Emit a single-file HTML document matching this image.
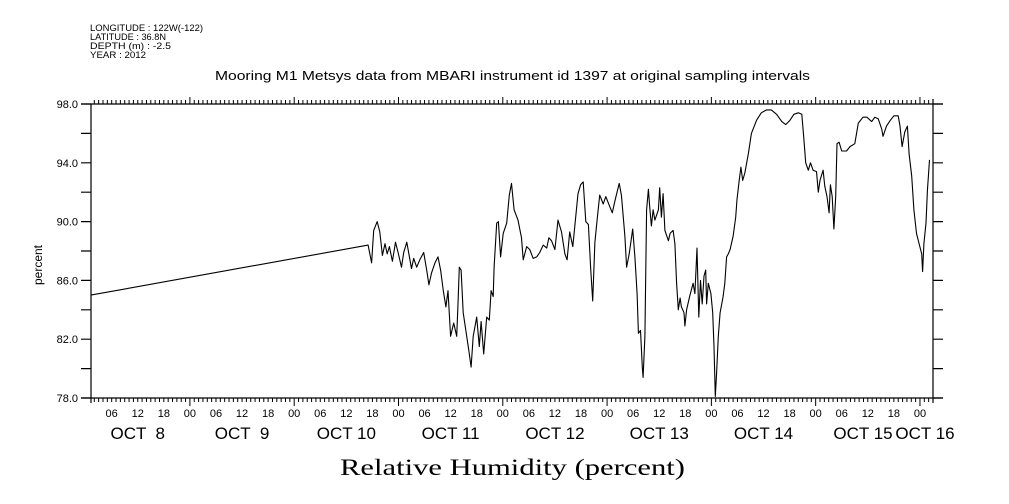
<!DOCTYPE html>
<html><head><meta charset="utf-8">
<style>
html,body{margin:0;padding:0;background:#fff;}
svg{display:block;}
text{font-family:"Liberation Sans",sans-serif;fill:#000;}
</style></head>
<body>
<svg id="chart" width="1009" height="504" viewBox="0 0 1009 504" xmlns="http://www.w3.org/2000/svg">
<g font-size="9.5">
<text x="90" y="31" textLength="113" lengthAdjust="spacingAndGlyphs">LONGITUDE : 122W(-122)</text>
<text x="90" y="40" textLength="76" lengthAdjust="spacingAndGlyphs">LATITUDE : 36.8N</text>
<text x="90" y="49" textLength="81" lengthAdjust="spacingAndGlyphs">DEPTH (m) : -2.5</text>
<text x="90" y="58" textLength="56" lengthAdjust="spacingAndGlyphs">YEAR : 2012</text>
</g>
<text x="215" y="80" textLength="595" lengthAdjust="spacingAndGlyphs" font-size="13">Mooring M1 Metsys data from MBARI instrument id 1397 at original sampling intervals</text>
<text x="340" y="475" textLength="345" lengthAdjust="spacingAndGlyphs" font-size="23" style="font-family:'Liberation Serif',serif">Relative Humidity (percent)</text>
<text transform="translate(42,265) rotate(-90)" text-anchor="middle" font-size="12">percent</text>
<g id="axes"></g>
<g id="series"></g>
</svg>
<script>
// hours since Oct 8 00:00
const hours=[1.2,65.0,65.8,66.3,67.1,67.7,68.3,68.9,69.4,69.9,70.6,71.3,71.9,72.7,73.2,73.9,74.5,75.0,75.5,76.2,76.9,77.8,78.5,79.0,79.6,80.4,81.1,81.7,82.3,82.9,83.4,84.0,84.7,85.4,85.7,86.0,86.4,86.9,87.7,88.2,88.7,89.2,90.0,90.6,91.0,91.6,92.3,92.9,93.3,93.8,94.0,94.6,95.0,95.5,96.1,96.9,97.5,98.0,98.6,99.5,100.3,100.7,101.5,102.2,103.0,103.8,104.5,105.3,106.1,106.6,107.2,108.0,108.7,109.5,110.3,110.8,111.4,112.1,112.7,113.3,113.9,114.5,115.1,115.7,116.2,116.7,117.2,117.7,118.3,119.1,119.7,120.5,121.2,121.8,122.8,123.3,124.1,124.5,125.1,125.9,126.4,126.9,127.2,127.7,128.1,128.3,128.7,129.1,129.5,129.8,130.2,130.6,131.0,131.8,132.1,132.5,132.9,133.3,134.1,134.5,135.2,135.6,136.0,136.4,136.8,137.1,137.7,137.9,138.3,139.0,139.8,140.2,140.7,141.1,141.5,141.9,142.3,142.7,142.9,143.3,143.9,144.3,144.6,144.9,145.2,145.6,146.0,146.7,147.1,147.5,147.9,148.3,149.0,149.6,149.9,150.4,150.8,151.2,151.7,152.5,153.2,154.4,155.5,156.7,157.8,159.0,160.2,161.1,162.1,163.0,164.0,164.8,165.3,165.7,166.3,166.8,167.4,168.2,168.6,169.0,169.7,170.1,170.6,171.1,171.4,171.8,172.2,172.6,172.9,173.4,174.0,175.1,175.9,177.0,177.8,178.9,179.8,180.9,181.6,182.4,183.2,183.5,184.3,185.2,186.0,187.0,187.4,187.9,188.5,189.1,189.5,190.1,190.6,191.2,191.8,192.4,192.6,192.9,193.4,193.7,194.2];
const humidity=[85.0,88.4,87.2,89.4,90.0,89.3,87.7,88.5,87.8,88.3,87.3,88.6,87.9,86.9,87.9,88.6,87.6,86.8,87.5,86.9,87.4,87.9,86.7,85.7,86.5,87.2,87.6,86.7,85.3,84.2,85.3,82.2,83.1,82.2,84.4,86.9,86.7,83.8,82.2,81.2,80.1,82.2,83.5,81.5,83.2,81.0,83.5,83.3,85.3,84.9,86.9,89.9,90.0,87.6,89.2,89.9,91.8,92.6,90.8,90.1,88.9,87.4,88.3,88.1,87.5,87.6,87.9,88.4,88.2,88.9,88.7,88.1,90.1,89.3,87.8,87.4,89.3,88.3,90.1,91.9,92.5,92.7,90.0,89.8,86.9,84.6,88.6,90.1,91.8,91.2,91.7,91.1,90.6,91.4,92.6,91.8,89.0,86.9,87.8,89.5,87.6,85.1,82.4,82.6,80.1,79.4,82.2,90.8,92.2,91.0,89.7,90.8,90.1,90.8,92.3,90.3,91.9,89.4,88.7,89.2,89.4,88.5,85.8,84.0,84.8,84.2,83.8,82.9,84.0,84.9,85.8,85.1,88.2,83.5,86.0,84.4,86.3,86.7,84.4,85.8,85.1,83.8,81.5,78.1,79.7,82.2,83.8,84.9,85.8,87.6,87.8,88.1,89.0,90.3,91.5,92.8,93.7,92.8,93.3,94.6,96.0,96.9,97.4,97.6,97.6,97.3,96.8,96.6,96.9,97.3,97.4,97.3,95.6,94.0,93.5,94.0,93.5,93.4,92.0,92.8,93.5,92.4,91.7,90.6,92.5,91.7,89.5,91.7,95.3,95.4,94.8,94.8,95.1,95.3,96.7,97.1,97.1,96.8,97.1,97.0,96.3,95.8,96.5,96.9,97.2,97.2,96.5,95.1,96.1,96.5,94.6,93.1,90.8,89.2,88.5,87.8,86.6,88.5,89.9,92.1,94.2];
const yTicks=[78,82,86,90,94,98];
const yTickLabels=["78.0","82.0","86.0","90.0","94.0","98.0"];
const dayLabels=["OCT  8","OCT  9","OCT 10","OCT 11","OCT 12","OCT 13","OCT 14","OCT 15","OCT 16"];
const hourLabels=["00","06","12","18"];

const X0=91,X1=933,Y0=104,Y1=398,HMIN=1.24,HMAX=195.0,VMIN=78,VMAX=98;
const sx=h=>X0+(h-HMIN)/(HMAX-HMIN)*(X1-X0);
const sy=v=>Y1-(v-VMIN)/(VMAX-VMIN)*(Y1-Y0);
const NS="http://www.w3.org/2000/svg";
const axes=document.getElementById('axes');
function mk(tag,attrs,parent){const e=document.createElementNS(NS,tag);for(const k in attrs)e.setAttribute(k,attrs[k]);parent.appendChild(e);return e;}
let f=mk('path',{d:`M81 ${Y0}H943M81 ${Y1}H943M${X0} ${Y0}V${Y1+5}M${X1} ${Y0-5}V${Y1+5}`,stroke:'#000','stroke-width':1.2,fill:'none'},axes);


let d='';
for(let v=VMIN;v<=VMAX;v+=2){d+=`M81 ${sy(v)}H${X0}M${X1} ${sy(v)}H943`;}
let yt=mk('path',{d:d,stroke:'#000','stroke-width':1.2},axes);


yTicks.forEach((v,i)=>{
 const t=mk('text',{x:78,y:sy(v)+4,'text-anchor':'end','font-size':11},axes);
 t.textContent=yTickLabels[i];
 
 
});
d='';
for(let h=Math.ceil(HMIN);h<=HMAX;h++){
 const x=sx(h);const major=h%24===0;
 d+=`M${x} ${Y1}V${Y1+(major?8:4)}M${x} ${Y0}V${Y0-(major?7:4)}`;
 if(h%6===0){
  const t=mk('text',{x:x,y:417,'text-anchor':'middle','font-size':11},axes);
  t.textContent=hourLabels[(h%24)/6];
  
  
 }
}
let xt=mk('path',{d:d,stroke:'#000','stroke-width':1},axes);


dayLabels.forEach((s,i)=>{
 let x=sx(i*24+12); if(i===dayLabels.length-1) x=925; if(i===7) x=863;
 const t=mk('text',{x:x,y:439,'text-anchor':'middle','font-size':17},axes);
 t.style.whiteSpace='pre';
 t.textContent=s;
 
 
});
const pts=hours.map((h,i)=>sx(h).toFixed(1)+','+sy(humidity[i]).toFixed(1)).join(' ');
const line=mk('polyline',{points:pts,fill:'none',stroke:'#000','stroke-width':1.1,'stroke-linejoin':'round'},document.getElementById('series'));


</script>
</body></html>
